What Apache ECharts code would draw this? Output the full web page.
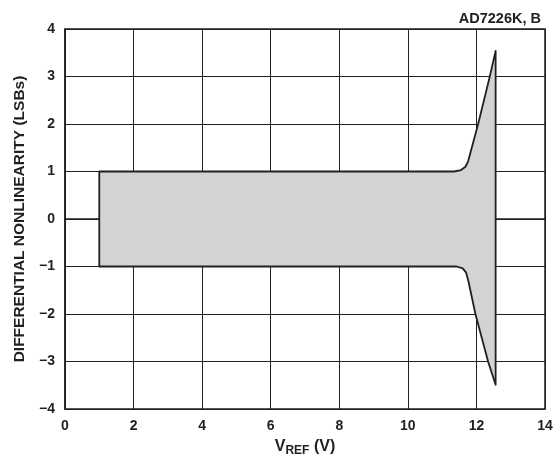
<!DOCTYPE html>
<html>
<head>
<meta charset="utf-8">
<script src="https://cdn.jsdelivr.net/npm/echarts@6/dist/echarts.min.js"></script>
<style>html,body{margin:0;padding:0;background:#fff;}#c{width:555px;height:456px;}</style>
</head>
<body>
<div id="c"></div>
<script>
var upperX = [1, 1, 11.35, 11.55, 11.68, 11.76, 12.05, 12.39, 12.56];
var upperY = [0, 1, 1, 1.03, 1.1, 1.22, 2, 3, 3.54];
var lowerX = [1, 11.42, 11.6, 11.7, 11.77, 11.97, 12.34, 12.56, 12.56];
var lowerY = [-1, -1, -1.04, -1.13, -1.32, -2, -3, -3.49, 0];
var xTicks = [0, 2, 4, 6, 8, 10, 12, 14];
var yTicks = [-4, -3, -2, -1, 0, 1, 2, 3, 4];

var chart = echarts.init(document.getElementById('c'));
var font = 'Liberation Sans, Arial, sans-serif';
chart.setOption({
  animation: false,
  backgroundColor: '#fff',
  title: {
    text: 'AD7226K, B', right: 9, top: 6,
    textStyle: { fontFamily: font, fontWeight: 'bold', fontSize: 14.5, color: '#231f20' }
  },
  grid: { left: 65, right: 10, top: 29, bottom: 47, outerBoundsMode: 'none', containLabel: false, show: true, borderColor: '#231f20', borderWidth: 1.5, backgroundColor: 'transparent' },
  xAxis: {
    type: 'value', min: 0, max: 14, interval: 2,
    name: '{a|V}{b|REF}{a| (V)}', nameLocation: 'middle', nameGap: 28,
    nameTextStyle: { rich: {
      a: { fontFamily: font, fontWeight: 'bold', fontSize: 16, color: '#231f20' },
      b: { fontFamily: font, fontWeight: 'bold', fontSize: 12, color: '#231f20', verticalAlign: 'bottom', padding: [8, 0, 0, 0] }
    } },
    axisLine: { show: true, lineStyle: { color: '#231f20', width: 1.5 } },
    axisTick: { show: false },
    axisLabel: { fontFamily: font, fontWeight: 'bold', fontSize: 14, color: '#231f20', margin: 10,
      formatter: function (v) { return xTicks.indexOf(v) >= 0 ? String(v) : ''; } },
    splitLine: { show: true, lineStyle: { color: '#231f20', width: 1 } }
  },
  yAxis: {
    type: 'value', min: -4, max: 4, interval: 1,
    name: 'DIFFERENTIAL NONLINEARITY (LSBs)', nameLocation: 'middle', nameGap: 37,
    nameTextStyle: { fontFamily: font, fontWeight: 'bold', fontSize: 15.5, color: '#231f20' },
    axisLine: { show: true, lineStyle: { color: '#231f20', width: 1.5 } },
    axisTick: { show: false },
    axisLabel: { fontFamily: font, fontWeight: 'bold', fontSize: 14, color: '#231f20', margin: 10,
      formatter: function (v) { return yTicks.indexOf(v) >= 0 ? (v < 0 ? '\u2212' + (-v) : String(v)) : ''; } },
    splitLine: { show: true, lineStyle: { color: '#231f20', width: 1 } }
  },
  series: [{
    type: 'custom',
    data: [[1, 0]],
    renderItem: function (params, api) {
      var pts = [];
      for (var i = 1; i < upperX.length; i++) pts.push(api.coord([upperX[i], upperY[i]]));
      for (var j = lowerX.length - 2; j >= 0; j--) pts.push(api.coord([lowerX[j], lowerY[j]]));
      return {
        type: 'polygon',
        shape: { points: pts },
        style: { fill: '#d1d3d4', stroke: '#231f20', lineWidth: 1.8, lineJoin: 'round' }
      };
    }
  }]
});
</script>
</body>
</html>
